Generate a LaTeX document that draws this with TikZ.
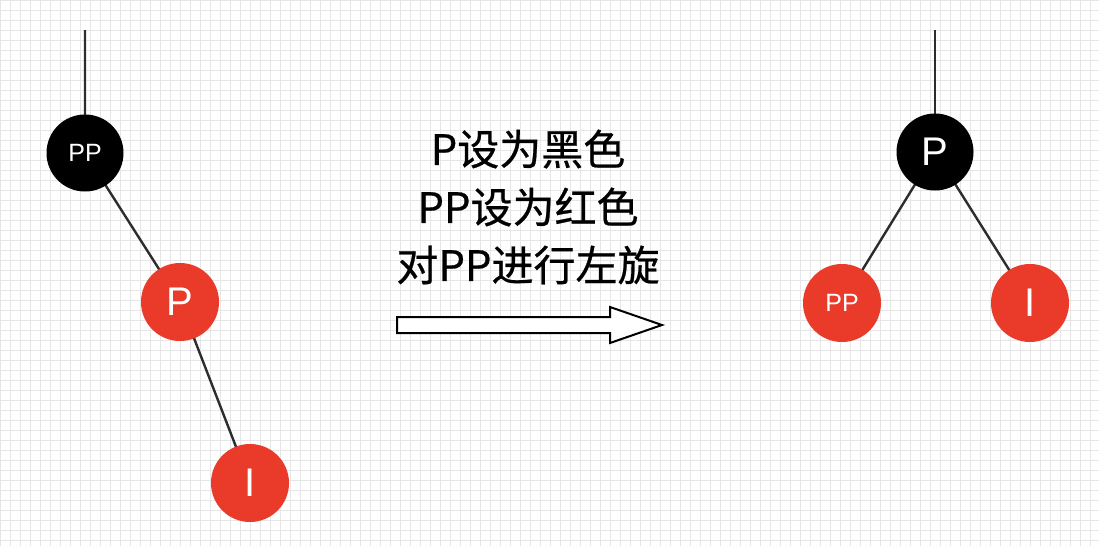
\documentclass[tikz,border=0pt]{standalone}
\usepackage{fontspec}
\setmainfont{Liberation Sans}
\newfontfamily\cjk[FakeBold=0.6]{Noto Sans CJK SC}
\definecolor{rbred}{RGB}{233,58,42}
\definecolor{edgegray}{RGB}{45,45,45}
\definecolor{gridgray}{RGB}{230,230,230}
\begin{document}
\begin{tikzpicture}[x=1pt,y=-1pt,
  blacknode/.style={circle,fill=black,minimum size=77pt,inner sep=0pt,text=white},
  rednode/.style={circle,fill=rbred,minimum size=78pt,inner sep=0pt,text=white},
  big/.style={font=\fontsize{40}{40}\selectfont},
  small/.style={font=\fontsize{25}{25}\selectfont},
  edge/.style={draw=edgegray,line width=2.4pt}]
\fill[white] (0,0) rectangle (1099,546);
\useasboundingbox (0,0) rectangle (1099,546);
\draw[gridgray,line width=0.8pt,step=10pt] (0,0) grid (1099,546);
% left tree
\coordinate (topL) at (85,30);
\coordinate (topR) at (935,30);
\path (85,153) coordinate (cPPL) (180,302) coordinate (cPL) (250,483) coordinate (cIL);
\path (935,152) coordinate (cPR) (842,303) coordinate (cPPR) (1030,303) coordinate (cIR);
\draw[edge] (topL) -- (cPPL) -- (cPL) -- (cIL);
\draw[edge] (topR) -- (cPR);
\draw[edge] (cPPR) -- (cPR) -- (cIR);
\node[blacknode,small] (ppL) at (cPPL) {PP};
\node[rednode,big] (pL) at (cPL) {P};
\node[rednode,big] (iL) at (cIL) {I};
\node[blacknode,big] (pR) at (cPR) {P};
\node[rednode,small] (ppR) at (cPPR) {PP};
\node[rednode,big] (iR) at (cIR) {I};
% text
\node[align=center,font=\cjk\fontsize{42}{58}\selectfont] (txt) at (528,207)
  {P设为黑色\\PP设为红色\\对PP进行左旋};
% block arrow
\draw[line width=2pt,fill=white,line join=miter]
  (397,317) -- (610,317) -- (610,307) -- (662,325) -- (610,343) -- (610,333) -- (397,333) -- cycle;
\end{tikzpicture}
\end{document}
